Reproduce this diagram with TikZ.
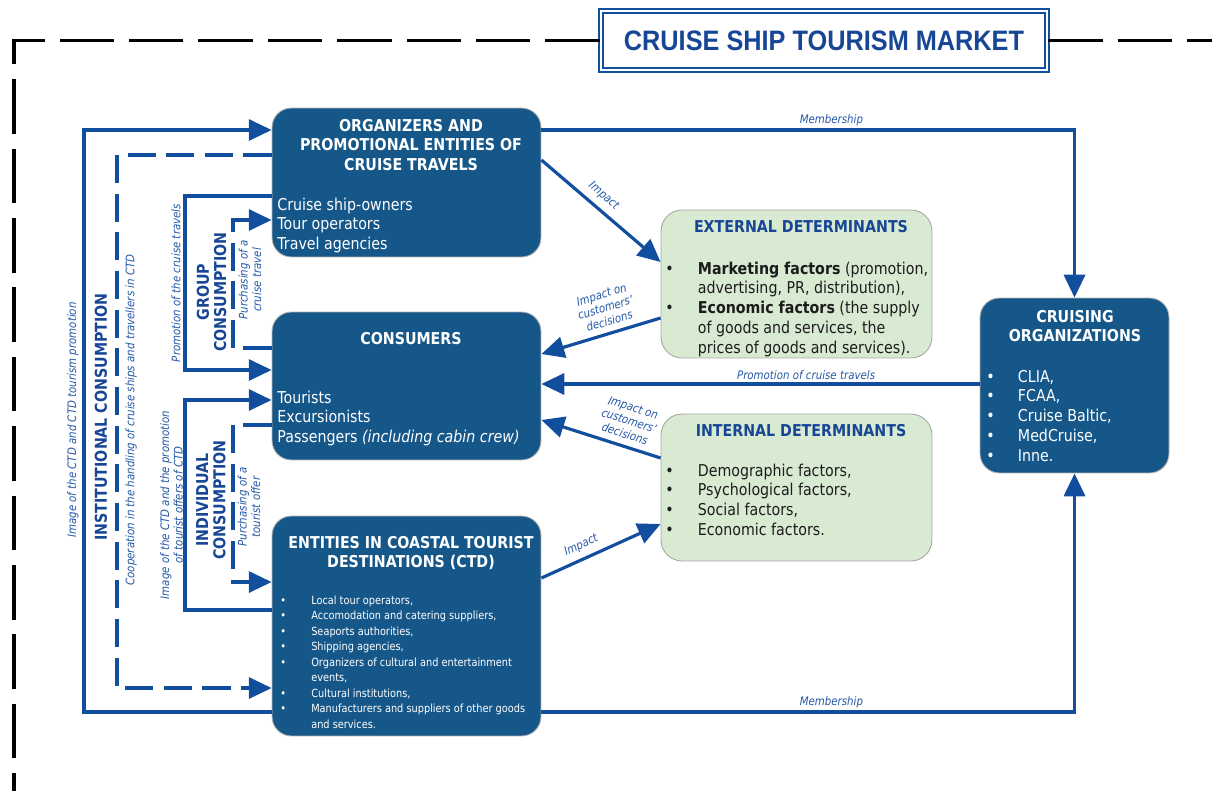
\documentclass[tikz,border=0pt]{standalone}
\usepackage{fontspec}
\usepackage{graphicx}
\setmainfont{DejaVu Sans}[FakeStretch=0.87]
\newfontfamily\ttlfont{Liberation Sans}[FakeStretch=0.9]
\usetikzlibrary{arrows.meta}

\definecolor{lineblue}{RGB}{18,78,158}
\definecolor{lblblue}{RGB}{36,88,168}
\definecolor{boxblue}{RGB}{22,87,138}
\definecolor{greenfill}{RGB}{217,234,211}
\definecolor{ttlblue}{RGB}{24,70,150}
\definecolor{txtdark}{RGB}{28,28,28}

\begin{document}
\begin{tikzpicture}[x=0.02cm,y=-0.02cm]
	\tikzstyle{dbox}=[draw=black!30, line width=0.5pt, fill=boxblue, rounded corners=11pt, inner sep=0pt]
	\tikzstyle{gbox}=[draw=black!35, line width=0.5pt, fill=greenfill, rounded corners=12pt, inner sep=0pt]
	\tikzstyle{wttl}=[text=white, inner sep=0pt, anchor=base, font=\fontsize{9.3}{11.34}\selectfont\bfseries]
	\tikzstyle{wtxt}=[text=white, inner sep=0pt, anchor=base west, font=\fontsize{9.3}{11.34}\selectfont]
	\tikzstyle{gttl}=[text=ttlblue, inner sep=0pt, anchor=base, font=\fontsize{9.3}{11.34}\selectfont\bfseries]
	\tikzstyle{gtxt}=[text=txtdark, inner sep=0pt, anchor=base west, font=\fontsize{9.3}{11.34}\selectfont]
	\tikzstyle{conn}=[draw=lineblue, line width=1.8pt, -{Triangle[length=13pt,width=12pt]}]
	\tikzstyle{dconn}=[conn, dash pattern=on 16pt off 6pt]
	\tikzstyle{lbl}=[text=lblblue, inner sep=1.5pt, font=\fontsize{6.7}{7.8}\selectfont\itshape]
	\tikzstyle{vlbl}=[lbl, rotate=90, align=center]
	\tikzstyle{vttl}=[text=ttlblue, inner sep=0pt, rotate=90, align=center, font=\fontsize{9.3}{9.8}\selectfont\bfseries]
	\tikzstyle{frame}=[draw=black, line width=2pt, dash pattern=on 31pt off 8.5pt]

	\useasboundingbox (0,0) rectangle (1212,791);

	\node[draw=lineblue, line width=1.4pt, double=white, double distance=0.8pt, fill=white, minimum width=8.92cm, minimum height=1.18cm, text=ttlblue, font=\ttlfont\fontsize{16}{18}\selectfont\bfseries](ttl) at (824,40.5){CRUISE SHIP TOURISM MARKET};
	\draw[frame] (ttl.west) -- (14,40.5) -- (14,791);
	\draw[frame] (ttl.east) -- (1212,40.5);

	\node[dbox, minimum width=5.38cm, minimum height=2.98cm](org) at (406.5,182.5){};
	\node[dbox, minimum width=5.38cm, minimum height=2.96cm](cons) at (406.5,386){};
	\node[dbox, minimum width=5.38cm, minimum height=4.4cm](ctd) at (406.5,626){};
	\node[gbox, minimum width=5.42cm, minimum height=2.96cm](ext) at (796.5,284){};
	\node[gbox, minimum width=5.42cm, minimum height=2.94cm](int) at (796.5,487.5){};
	\node[dbox, minimum width=3.78cm, minimum height=3.5cm](cru) at (1074.5,385.5){};

	\node[wttl](orgT) at (411,131){\begin{tabular}[t]{@{}c@{}}ORGANIZERS AND\\PROMOTIONAL ENTITIES OF\\CRUISE TRAVELS\end{tabular}};
	\node[wtxt](orgL) at (277,210){\begin{tabular}[t]{@{}l@{}}Cruise ship-owners\\Tour operators\\Travel agencies\end{tabular}};

	\node[wttl](consT) at (411,344){CONSUMERS};
	\node[wtxt](consL) at (277,403){\begin{tabular}[t]{@{}l@{}}Tourists\\Excursionists\\Passengers \textit{(including cabin crew)}\end{tabular}};

	\node[wttl](ctdT) at (411,548){\begin{tabular}[t]{@{}c@{}}ENTITIES IN COASTAL TOURIST\\DESTINATIONS (CTD)\end{tabular}};
	\node[wtxt, font=\fontsize{6.4}{8.79}\selectfont](ctdL) at (280,604.5){\begin{tabular}[t]{@{}p{17.6pt}@{}l@{}}
		\textbullet & Local tour operators,\\
		\textbullet & Accomodation and catering suppliers,\\
		\textbullet & Seaports authorities,\\
		\textbullet & Shipping agencies,\\
		\textbullet & Organizers of cultural and entertainment\\
		 & events,\\
		\textbullet & Cultural institutions,\\
		\textbullet & Manufacturers and suppliers of other goods\\
		 & and services.
	\end{tabular}};

	\node[gttl](extT) at (801,232){EXTERNAL DETERMINANTS};
	\node[gtxt](extL) at (665,274){\begin{tabular}[t]{@{}p{18.5pt}@{}l@{}}
		\textbullet & \textbf{Marketing factors} (promotion,\\
		 & advertising, PR, distribution),\\
		\textbullet & \textbf{Economic factors} (the supply\\
		 & of goods and services, the\\
		 & prices of goods and services).
	\end{tabular}};

	\node[gttl](intT) at (801,436){INTERNAL DETERMINANTS};
	\node[gtxt](intL) at (665,476){\begin{tabular}[t]{@{}p{18.5pt}@{}l@{}}
		\textbullet & Demographic factors,\\
		\textbullet & Psychological factors,\\
		\textbullet & Social factors,\\
		\textbullet & Economic factors.
	\end{tabular}};

	\node[wttl](cruT) at (1075,322){\begin{tabular}[t]{@{}c@{}}CRUISING\\ORGANIZATIONS\end{tabular}};
	\node[wtxt](cruL) at (986,382){\begin{tabular}[t]{@{}p{18pt}@{}l@{}}
		\textbullet & CLIA,\\
		\textbullet & FCAA,\\
		\textbullet & Cruise Baltic,\\
		\textbullet & MedCruise,\\
		\textbullet & Inne.
	\end{tabular}};

	\draw[conn] (org.east |- 0,130) -| (cru.north) node[lbl, pos=0.272, above]{Membership};
	\draw[conn] (ctd.east |- 0,712) -| (cru.south) node[lbl, pos=0.272, above]{Membership};

	\draw[conn] (org.east |- 0,160) -- (ext.west |- 0,262) node[lbl, pos=0.45, sloped, above=2pt]{Impact};
	\draw[conn] (ext.west |- 0,318) -- (cons.east |- 0,354) node[lbl, pos=0.4, sloped, above=2pt, align=center]{Impact on\\customers'\\decisions};
	\draw[conn] (cru.west |- 0,384) -- (cons.east |- 0,384) node[lbl, pos=0.396, above]{Promotion of cruise travels};
	\draw[conn] (int.west |- 0,458) -- (cons.east |- 0,420) node[lbl, pos=0.33, sloped, above=2pt, align=center]{Impact on\\customers'\\decisions};
	\draw[conn] (ctd.east |- 0,578) -- (int.west |- 0,524) node[lbl, pos=0.38, sloped, above=2pt]{Impact};

	\draw[conn] (ctd.west |- 0,712) -- (84,712) -- (84,130) -- (org.west |- 0,130);
	\draw[dconn] (org.west |- 0,155) -- (117,155) -- (117,688) -- (ctd.west |- 0,688);
	\draw[conn] (org.west |- 0,196) -- (185,196) -- (185,370) -- (cons.west |- 0,370);
	\draw[dconn] (cons.west |- 0,348) -- (233,348) -- (233,220) -- (org.west |- 0,220);
	\draw[conn] (ctd.west |- 0,610) -- (185,610) -- (185,400) -- (cons.west |- 0,400);
	\draw[dconn] (cons.west |- 0,425) -- (233,425) -- (233,582) -- (ctd.west |- 0,582);

	\node[vlbl](instL) at (73,420){Image of the CTD and CTD tourism promotion};
	\node[vttl](inst) at (101,417){INSTITUTIONAL CONSUMPTION};
	\node[vlbl](coopL) at (131,420){Cooperation in the handling of cruise ships and travellers in CTD};

	\node[vlbl](grpL) at (176,283){Promotion of the cruise travels};
	\node[vttl](grp) at (211.5,292){GROUP\\CONSUMPTION};
	\node[vlbl](grpP) at (250,280){Purchasing of a\\cruise travel};

	\node[vlbl](indL) at (171.5,505){Image of the CTD and the promotion\\of tourist offers of CTD};
	\node[vttl](ind) at (211,500){INDIVIDUAL\\CONSUMPTION};
	\node[vlbl](indP) at (249,507){Purchasing of a\\tourist offer};

\end{tikzpicture}
\end{document}
